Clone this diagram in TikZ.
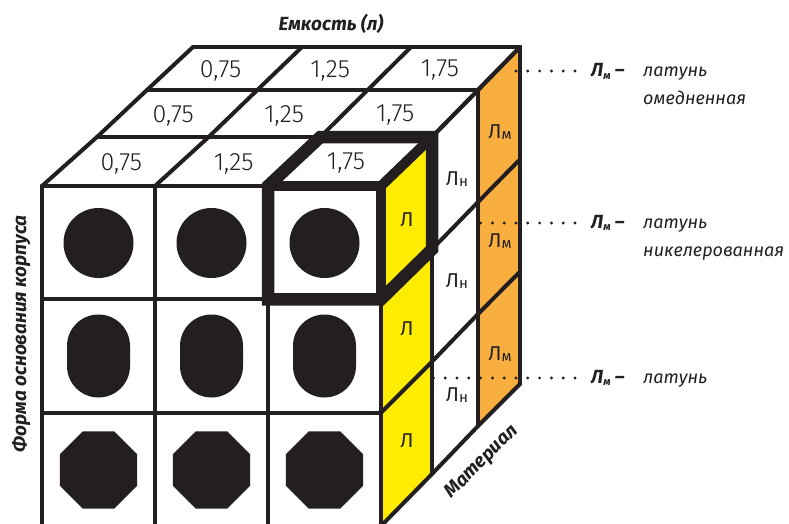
\documentclass[tikz,border=0pt]{standalone}
\usepackage{fontspec}
\setmainfont{Fira Sans}
\newfontfamily\lightfont{Fira Sans Light}
\usetikzlibrary{calc}
\definecolor{ink}{HTML}{231F20}
\definecolor{cubeyellow}{HTML}{FFEC00}
\definecolor{cubeorange}{HTML}{F9AE40}
\tikzset{
  cubeline/.style={draw=ink, line width=4pt, line cap=round, line join=round},
  thickedge/.style={draw=ink, line width=12.5pt, line join=miter},
  inneredge/.style={draw=ink, line width=10pt},
  numlabel/.style={font=\lightfont\fontsize{25}{25}\selectfont, text=ink, inner sep=0pt},
  facelabel/.style={font=\fontsize{20}{20}\selectfont, text=ink, inner sep=0pt},
  titletext/.style={font=\bfseries\itshape\fontsize{19}{19}\selectfont, text=ink, inner sep=0pt},
  legtext/.style={font=\itshape\fontsize{18}{18}\selectfont, text=ink, inner sep=0pt, anchor=base west},
  legkey/.style={font=\bfseries\itshape\fontsize{19}{19}\selectfont, text=ink, inner sep=0pt, anchor=base west},
  leader/.style={draw=ink, line width=3.2pt, line cap=round, dash pattern=on 0pt off 11.8pt},
}
\newcommand{\subn}[1]{\raisebox{-1.5pt}{\fontsize{15}{15}\selectfont #1}}
\newcommand{\legsub}[1]{\raisebox{-2.5pt}{\fontsize{11}{11}\selectfont #1}}
\begin{document}
\begin{tikzpicture}[x=1pt,y=-1pt]
\useasboundingbox (0,0) rectangle (789,524);
\clip (0,0) rectangle (789,524);
% layer coordinates
\foreach \k/\L/\R/\T/\B in {0/42/381/186/526,1/97/432/137/474,2/147/478/90/426,3/193/520/47/384}{
  \foreach \i in {0,1,2,3}{
    \coordinate (t\k\i) at ({\L+\i*(\R-\L)/3},\T);
    \coordinate (s\k\i) at (\R,{\T+\i*(\B-\T)/3});
  }
}
\foreach \i in {0,1,2,3}{
  \foreach \r in {0,1,2,3}{
    \coordinate (f\i\r) at ({42+\i*113},{186+\r*340/3});
  }
}
% fills
\fill[white] (t00) -- (t30) -- (t33) -- (t03) -- cycle;
\fill[white] (f00) rectangle (f33);
\fill[cubeyellow] (s00) -- (s10) -- (s13) -- (s03) -- cycle;
\fill[white] (s10) -- (s20) -- (s23) -- (s13) -- cycle;
\fill[cubeorange] (s20) -- (s30) -- (s33) -- (s23) -- cycle;
% grid lines
\foreach \k in {0,1,2,3}{
  \draw[cubeline] (t\k0) -- (t\k3);
  \draw[cubeline] (s\k0) -- (s\k3);
}
\foreach \i in {0,1,2,3}{
  \draw[cubeline] (t0\i) -- (t1\i) -- (t2\i) -- (t3\i);
  \draw[cubeline] (s0\i) -- (s1\i) -- (s2\i) -- (s3\i);
  \draw[cubeline] (f\i0) -- (f\i3);
  \draw[cubeline] (f0\i) -- (f3\i);
}
% shapes in cells
\foreach \i in {0,1,2}{
  \fill[ink] ({98.5+113*\i},243) circle[radius=35];
  \fill[ink, rounded corners=31.5pt] ({98.5+113*\i-31.5},{356-41.5}) rectangle ({98.5+113*\i+31.5},{356+41.5});
  \fill[ink] ({98.5+113*\i},470) +(22.5:41.7) -- +(67.5:41.7) -- +(112.5:41.7) -- +(157.5:41.7)
     -- +(202.5:41.7) -- +(247.5:41.7) -- +(292.5:41.7) -- +(337.5:41.7) -- cycle;
}
% highlighted cube
\draw[thickedge] (f21) -- (f20) -- (t12) -- (t13) -- (s11) -- (f31) -- cycle;
\draw[inneredge] (f20) -- (f30) -- (f31);
\draw[inneredge] (f30) -- (t13);
% numbers on top face
\foreach \k/\kk in {0/1,1/2,2/3}{
  \foreach \i/\ii/\v in {0/1/{0,75},1/2/{1,25},2/3/{1,75}}{
    \node[numlabel] (n\k\i) at ($(t\k\i)!0.5!(t\kk\ii)+(-4,2)$) {\v};
  }
}
% right face labels
\node[facelabel] (l0) at (407,220) {Л};
\node[facelabel] (l1) at (407,329) {Л};
\node[facelabel] (l2) at (407,441) {Л};
\node[facelabel] (ln0) at (457,179) {Л\subn{н}};
\node[facelabel] (ln1) at (457,281) {Л\subn{н}};
\node[facelabel] (ln2) at (457,395) {Л\subn{н}};
\node[facelabel] (lm0) at (500,132) {Л\subn{м}};
\node[facelabel] (lm1) at (500,241) {Л\subn{м}};
\node[facelabel] (lm2) at (500,354) {Л\subn{м}};
% axis titles
\node[titletext, anchor=base] (xlab) at (331,31) {Емкость (л)};
\node[titletext, rotate=90, anchor=base] (ylab) at (26,334) {Форма основания корпуса};
\node[titletext, rotate=45] (zlab) at (482,462) {Материал};
% legend
\node[legkey] (k1) at (591,77) {Л\legsub{м} –};
\node[legtext] (v1) at (643,77) {латунь};
\node[legtext] (w1) at (643,105) {омедненная};
\node[legkey] (k2) at (591,228) {Л\legsub{м} –};
\node[legtext] (v2) at (643,228) {латунь};
\node[legtext] (w2) at (643,256) {никелерованная};
\node[legkey] (k3) at (591,383) {Л\legsub{м} –};
\node[legtext] (v3) at (643,383) {латунь};
\coordinate (a1) at (575,71); \coordinate (b1) at (513,71);
\coordinate (a2) at (575,223); \coordinate (b2) at (473,223);
\coordinate (a3) at (575,378); \coordinate (b3) at (427,378);
\draw[leader] (a1) -- (b1);
\draw[leader] (a2) -- (b2);
\draw[leader] (a3) -- (b3);
\end{tikzpicture}
\end{document}
